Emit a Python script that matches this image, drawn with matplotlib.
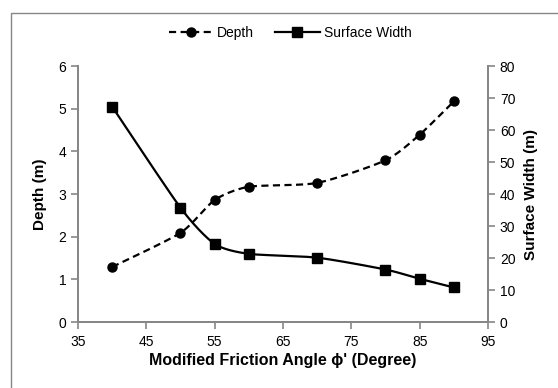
import numpy as np
import matplotlib
matplotlib.use("Agg")
import matplotlib.pyplot as plt
from matplotlib.patches import Rectangle

plt.rcParams['font.family'] = ['Liberation Sans Narrow', 'Liberation Sans', 'DejaVu Sans']

angle = [40, 50, 55, 60, 70, 80, 85, 90]
depth = [1.29, 2.09, 2.86, 3.17, 3.26, 3.79, 4.39, 5.17]
surface_width = [67.3, 35.7, 24.4, 21.3, 20.1, 16.4, 13.5, 10.8]

grey = '#868686'


def smooth(x, y, n=30):
    # Catmull-Rom curve through the points, like a smoothed line in a spreadsheet
    x = np.asarray(x, float)
    y = np.asarray(y, float)
    px = np.concatenate([[x[0]], x, [x[-1]]])
    py = np.concatenate([[y[0]], y, [y[-1]]])
    xs, ys = [], []
    t = np.linspace(0, 1, n)
    for i in range(1, len(px) - 2):
        for p, out in ((px, xs), (py, ys)):
            p0, p1, p2, p3 = p[i - 1], p[i], p[i + 1], p[i + 2]
            m1 = (p2 - p0) / 2
            m2 = (p3 - p1) / 2
            h00 = 2 * t**3 - 3 * t**2 + 1
            h10 = t**3 - 2 * t**2 + t
            h01 = -2 * t**3 + 3 * t**2
            h11 = t**3 - t**2
            out.extend(h00 * p1 + h10 * m1 * 0.7 + h01 * p2 + h11 * m2 * 0.7)
    return np.array(xs), np.array(ys)


fig = plt.figure(figsize=(5.58, 3.88), dpi=100)
fig.patches.append(Rectangle((11 / 558, -0.1), 1.2, (388 - 13) / 388 + 0.1,
                             transform=fig.transFigure, fill=False,
                             edgecolor=grey, linewidth=1.0))

ax = fig.add_axes([78 / 558, 66 / 388, 410 / 558, 256 / 388])
ax2 = ax.twinx()

dash = (0, (3.2, 2.0))
sx, sy = smooth(angle, depth)
ax.plot(sx, sy, color='black', linestyle=dash, linewidth=1.6)
ax.plot(angle, depth, linestyle='none', marker='o', markersize=6.5, color='black')

wx, wy = smooth(angle, surface_width)
ax2.plot(wx, wy, color='black', linewidth=1.6)
ax2.plot(angle, surface_width, linestyle='none', marker='s', markersize=7, color='black')

ax.set_xlim(35, 95)
ax.set_ylim(0, 6)
ax2.set_ylim(0, 80)
ax.set_xticks(range(35, 96, 10))
ax.set_yticks(range(0, 7))
ax2.set_yticks(range(0, 81, 10))

for a in (ax, ax2):
    for s in a.spines.values():
        s.set_color(grey)
        s.set_linewidth(1.3)
    a.spines['top'].set_visible(False)
    a.tick_params(colors=grey, labelcolor='black', labelsize=10, length=5, width=1.2, direction='out')
ax.tick_params(axis='x', pad=4)

ax.set_xlabel("Modified Friction Angle \u03d5' (Degree)", fontsize=11.5, fontweight='bold', labelpad=3)
ax.set_ylabel("Depth (m)", fontsize=11, fontweight='bold', labelpad=8)
ax2.set_ylabel("Surface Width (m)", fontsize=11, fontweight='bold', labelpad=6)

h1, = ax.plot([], [], color='black', linestyle=dash, linewidth=1.6, marker='o', markersize=6.5)
h2, = ax.plot([], [], color='black', linewidth=1.6, marker='s', markersize=7)
fig.legend([h1, h2], ['Depth', 'Surface Width'], loc='center', bbox_to_anchor=(0.52, 1 - 33 / 388),
           ncol=2, frameon=False, fontsize=10, handlelength=3.2, columnspacing=1.5, handletextpad=0.3)

fig.savefig('out.png', dpi=100)
